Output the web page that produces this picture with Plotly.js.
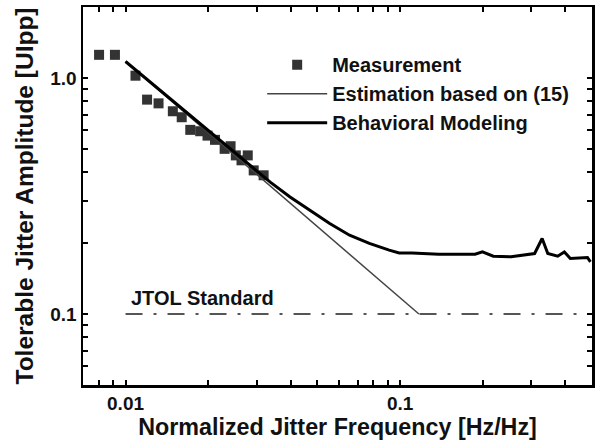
<!DOCTYPE html>
<html>
<head>
<meta charset="utf-8">
<script src="https://cdn.plot.ly/plotly-3.0.1.min.js"></script>
<style>html,body{margin:0;padding:0;background:#fff;}#chart{width:596px;height:441px;}</style>
</head>
<body>
<div id="chart"></div>
<script>
// Measurement points
const measFreq = [0.00801, 0.00915, 0.01087, 0.01198, 0.01319, 0.01487, 0.01602, 0.01721, 0.01870, 0.01989, 0.02118, 0.02296, 0.02413, 0.02522, 0.02645, 0.02787, 0.02930, 0.03184];
const measAmp  = [1.254, 1.254, 1.023, 0.810, 0.781, 0.723, 0.682, 0.603, 0.595, 0.570, 0.547, 0.501, 0.514, 0.470, 0.448, 0.470, 0.406, 0.387];

// Estimation based on (15)
const estFreq = [0.01, 0.1171];
const estAmp  = [1.175, 0.1];

// Behavioral modeling
const behFreq = [0.01, 0.01731, 0.03366, 0.03974, 0.04694, 0.05542, 0.06545, 0.07729, 0.09128, 0.09918, 0.1105, 0.1383, 0.1876, 0.1994, 0.2185, 0.2537, 0.3090, 0.3291, 0.3451, 0.375, 0.3965, 0.4168, 0.4813, 0.4934];
const behAmp  = [1.175, 0.693, 0.362, 0.313, 0.275, 0.2416, 0.2157, 0.199, 0.1864, 0.1815, 0.1815, 0.1792, 0.1792, 0.1833, 0.1758, 0.1746, 0.1804, 0.2089, 0.1804, 0.1758, 0.1833, 0.1719, 0.1736, 0.1663];

// JTOL standard
const jtolFreq = [0.01, 0.5];
const jtolAmp  = [0.1, 0.1];

// Tick values / labels
const xTickVals = [0.007, 0.008, 0.009, 0.01, 0.02, 0.03, 0.04, 0.05, 0.06, 0.07, 0.08, 0.09, 0.1, 0.2, 0.3, 0.4, 0.5];
const xTickText = ['', '', '', '0.01', '', '', '', '', '', '', '', '', '0.1', '', '', '', ''];
const yTickVals = [0.05, 0.06, 0.07, 0.08, 0.09, 0.1, 0.2, 0.3, 0.4, 0.5, 0.6, 0.7, 0.8, 0.9, 1.0, 2.0];
const yTickText = ['', '', '', '', '', '0.1', '', '', '', '', '', '', '', '', '1.0', ''];

const FONT = 'Arial, "Liberation Sans", sans-serif';

const traces = [
  {x: measFreq, y: measAmp, mode: 'markers', name: 'Measurement', type: 'scatter',
   marker: {symbol: 'square', size: 10, color: '#333333'}},
  {x: estFreq, y: estAmp, mode: 'lines', name: 'Estimation based on (15)', type: 'scatter',
   line: {color: '#444444', width: 1.5}},
  {x: behFreq, y: behAmp, mode: 'lines', name: 'Behavioral Modeling', type: 'scatter',
   line: {color: '#000000', width: 3}},
  {x: jtolFreq, y: jtolAmp, mode: 'lines', name: 'JTOL Standard', type: 'scatter', showlegend: false,
   line: {color: '#555555', width: 2, dash: '17px,11px,3px,11px'}}
];

const axisCommon = {
  type: 'log', showgrid: false, zeroline: false,
  showline: true, linecolor: '#000', linewidth: 2.5, mirror: 'ticks',
  ticks: 'inside', ticklen: 5, tickwidth: 2, tickcolor: '#000',
  tickmode: 'array',
  tickfont: {family: FONT, size: 19, color: '#111', weight: 'bold'}
};

const layout = {
  width: 596, height: 441,
  margin: {l: 83, r: 4, t: 7, b: 56},
  paper_bgcolor: '#fff', plot_bgcolor: '#fff',
  showlegend: true,
  legend: {x: 0.352, y: 0.899, xanchor: 'left', yanchor: 'top',
           bgcolor: 'rgba(0,0,0,0)', borderwidth: 0, itemwidth: 60,
           font: {family: FONT, size: 20, color: '#111', weight: 'bold'}},
  xaxis: Object.assign({}, axisCommon, {
    range: [Math.log10(0.007), Math.log10(0.5)],
    tickvals: xTickVals, ticktext: xTickText,
    title: {text: 'Normalized Jitter Frequency [Hz/Hz]', standoff: 6,
            font: {family: FONT, size: 23.3, color: '#111', weight: 'bold'}}
  }),
  yaxis: Object.assign({}, axisCommon, {
    range: [Math.log10(0.05), Math.log10(2)],
    tickvals: yTickVals, ticktext: yTickText,
    title: {text: 'Tolerable Jitter Amplitude [UIpp]', standoff: 10,
            font: {family: FONT, size: 24.5, color: '#111', weight: 'bold'}}
  }),
  annotations: [
    {x: Math.log10(0.0107) - 0.018, y: Math.log10(0.1) + 0.068, xref: 'x', yref: 'y',
     text: 'JTOL Standard', showarrow: false, xanchor: 'left', yanchor: 'middle',
     font: {family: FONT, size: 20, color: '#111', weight: 'bold'}}
  ]
};

Plotly.newPlot('chart', traces, layout, {displayModeBar: false, staticPlot: true});
</script>
</body>
</html>
